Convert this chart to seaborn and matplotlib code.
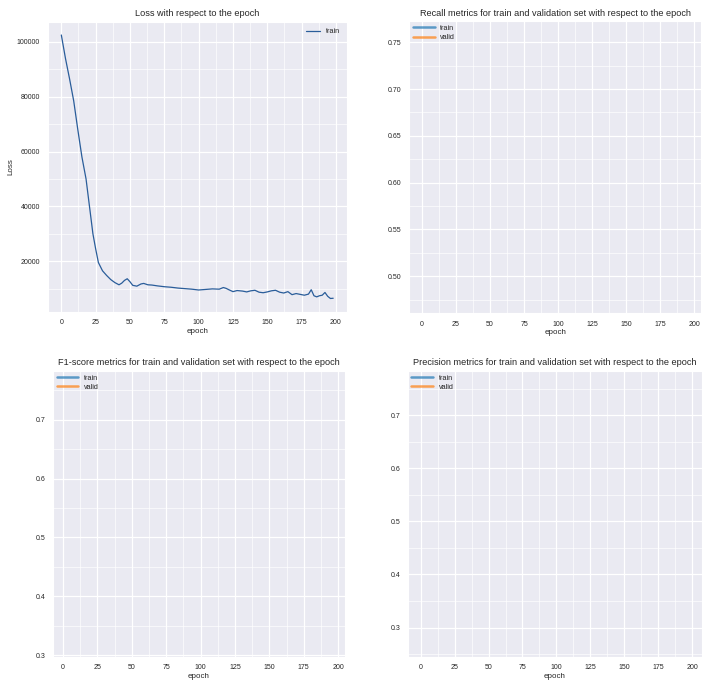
import matplotlib
matplotlib.use("Agg")
import matplotlib.pyplot as plt
from matplotlib.ticker import AutoMinorLocator
import seaborn as sns
import pandas as pd

# loss (epoch, loss)
epochs = [0, 3, 6, 9, 12, 15, 18, 21, 23, 25, 27, 30, 33, 36, 39, 42, 44, 46, 48, 50,
          52, 55, 58, 60, 63, 66, 70, 75, 80, 85, 90, 95, 100, 105, 110, 115, 118, 120,
          122, 125, 128, 132, 135, 138, 141, 144, 147, 150, 153, 156, 159, 162, 165,
          168, 171, 174, 177, 180, 182, 184, 186, 188, 190, 192, 194, 196, 198]
loss = [102500, 94000, 86500, 78500, 68000, 58000, 50000, 38000, 30000, 24500, 19500,
        16500, 14800, 13300, 12200, 11400, 12000, 13000, 13600, 12500,
        11200, 10900, 11700, 11900, 11400, 11300, 11000, 10700, 10500, 10200, 10000, 9800,
        9500, 9700, 9900, 9800, 10400, 10100,
        9600, 8900, 9300, 9100, 8800, 9200, 9400, 8700, 8500, 8800, 9200, 9400, 8700, 8400,
        8900, 7800, 8200, 7900, 7600, 8000, 9600, 7400, 7000, 7400, 7600, 8600, 7200,
        6400, 6500]

titles = ["Loss with respect to the epoch",
          "Recall metrics for train and validation set with respect to the epoch",
          "F1-score metrics for train and validation set with respect to the epoch",
          "Precision metrics for train and validation set with respect to the epoch"]
series = ["train", "valid"]
recall_ticks = [0.50, 0.55, 0.60, 0.65, 0.70, 0.75]
f1_ticks = [0.3, 0.4, 0.5, 0.6, 0.7]
precision_ticks = [0.3, 0.4, 0.5, 0.6, 0.7]

sns.set_style("darkgrid")
plt.rcParams['font.family'] = ['Liberation Sans', 'DejaVu Sans']
fs = 5.5

fig = plt.figure(figsize=(7.02, 6.82), dpi=100)
rects = [[0.068, 0.543, 0.426, 0.425],
         [0.583, 0.541, 0.416, 0.428],
         [0.0755, 0.037, 0.416, 0.419],
         [0.581, 0.037, 0.419, 0.419]]
axes = [fig.add_axes(r) for r in rects]

def style(ax, title):
    ax.set_title(title, fontsize=6.6, pad=4)
    ax.set_xlabel("epoch", fontsize=fs + 0.3, labelpad=1)
    ax.tick_params(labelsize=fs - 0.5, pad=2)
    ax.set_xticks([0, 25, 50, 75, 100, 125, 150, 175, 200])
    ax.xaxis.set_minor_locator(AutoMinorLocator(2))
    ax.yaxis.set_minor_locator(AutoMinorLocator(2))
    ax.grid(which='major', color='white', linewidth=0.9)
    ax.grid(which='minor', color='white', linewidth=0.45)

# loss panel
df = pd.DataFrame({"epoch": epochs, "loss": loss})
ax = axes[0]
sns.lineplot(data=df, x="epoch", y="loss", ax=ax, color="#2a5d9a", linewidth=0.9, label="train")
ax.set_yticks([20000, 40000, 60000, 80000, 100000])
style(ax, titles[0])
ax.set_ylabel("Loss", fontsize=fs + 0.3, labelpad=2)
ax.legend(loc="upper right", fontsize=fs - 0.3, frameon=False)

# metric panels: only legend entries are visible
colors = ["#1f77b4", "#ff7f0e"]
metric_cfg = [(recall_ticks, (0.4607, 0.7725), (-9.3, 205), "%.2f"),
              (f1_ticks, (0.297, 0.783), (-7.3, 205), "%.1f"),
              (precision_ticks, (0.245, 0.783), (-9.3, 207), "%.1f")]
for ax, title, (ticks, ylim, xlim, fmt) in zip(axes[1:], titles[1:], metric_cfg):
    for name, c in zip(series, colors):
        ax.plot([], [], color=c, linewidth=1.8, alpha=0.7, label=name)
    ax.set_yticks(ticks)
    ax.set_yticklabels([fmt % t for t in ticks])
    style(ax, title)
    ax.set_ylabel("")
    ax.set_ylim(*ylim)
    ax.set_xlim(*xlim)
    ax.legend(loc="upper left", fontsize=fs - 0.3, frameon=False,
              borderaxespad=0.1, handlelength=3, labelspacing=0.3)

fig.savefig("out.png", dpi=100)
